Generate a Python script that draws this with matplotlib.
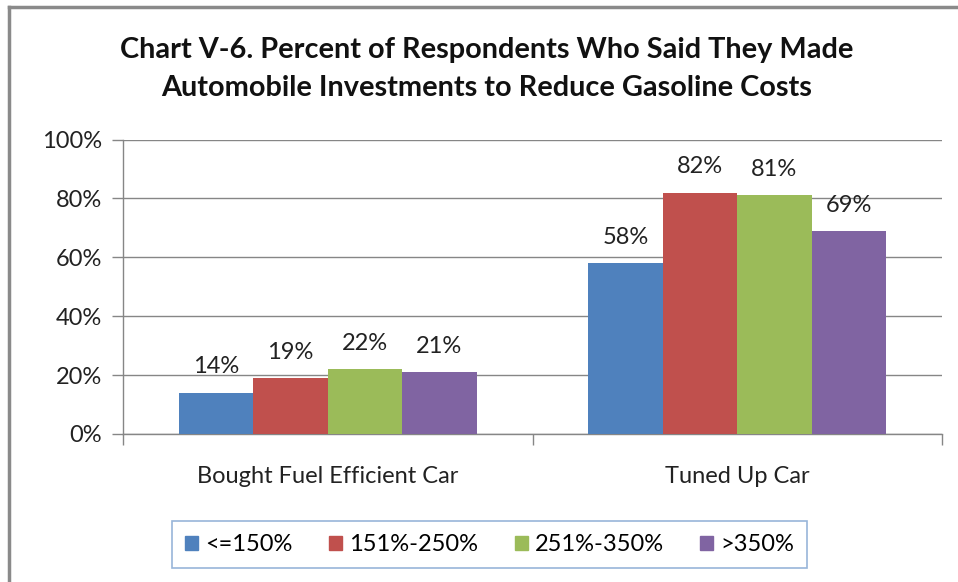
import numpy as np
import matplotlib.pyplot as plt
from matplotlib.lines import Line2D
from matplotlib.patches import Rectangle

plt.rcParams['font.family'] = ['Lato', 'DejaVu Sans']

categories = ["Bought Fuel Efficient Car", "Tuned Up Car"]
series_names = ["<=150%", "151%-250%", "251%-350%", ">350%"]
values = {
    "<=150%": [14, 58],
    "151%-250%": [19, 82],
    "251%-350%": [22, 81],
    ">350%": [21, 69],
}
colors = ["#4F81BD", "#C0504D", "#9BBB59", "#8064A2"]
y_ticks = [0, 20, 40, 60, 80, 100]

GRID = "#868686"
FS = 17

fig = plt.figure(figsize=(9.58, 5.82), dpi=100)
ax = fig.add_axes([0.1284, 0.2543, 0.8549, 0.506])

x = np.arange(len(categories))
bar_w = 0.1817
for i, name in enumerate(series_names):
    pos = x + (i - 1.5) * bar_w
    bars = ax.bar(pos, values[name], width=bar_w, color=colors[i],
                  label=name, zorder=3)
    for b, v in zip(bars, values[name]):
        ax.annotate(f"{v}%", (b.get_x() + b.get_width() / 2, v),
                    xytext=(0, 11), textcoords="offset points",
                    ha="center", va="bottom", fontsize=FS, color="#222222")

ax.set_xlim(-0.5, len(categories) - 0.5)
ax.set_ylim(0, 100)
ax.set_yticks(y_ticks)
ax.set_yticklabels([f"{t}%" for t in y_ticks], fontsize=FS, color="#222222")
ax.yaxis.grid(True, color=GRID, linewidth=1, zorder=0)

# category labels sit between boundary tick marks
ax.set_xticks([-0.5, 0.5, 1.5])
ax.set_xticklabels([])
ax.set_xticks(x, minor=True)
ax.set_xticklabels(categories, minor=True, fontsize=FS, color="#222222")
ax.tick_params(axis="x", which="minor", length=0, pad=23)
ax.tick_params(axis="x", which="major", length=8, color=GRID, width=1)
ax.tick_params(axis="y", length=8, color=GRID, width=1, pad=7)

for side in ["top", "right"]:
    ax.spines[side].set_visible(False)
for side in ["left", "bottom"]:
    ax.spines[side].set_color(GRID)
    ax.spines[side].set_linewidth(1)

fig.suptitle("Chart V-6. Percent of Respondents Who Said They Made\n"
             "Automobile Investments to Reduce Gasoline Costs",
             x=0.508, y=0.937, fontsize=20.8, fontweight="bold",
             linespacing=1.6, color="#111111")

handles = [Rectangle((0, 0), 1, 1, color=c) for c in colors]
leg = fig.legend(handles, series_names, loc="center", ncol=4,
                 bbox_to_anchor=(0.511, 0.0644), fontsize=FS,
                 frameon=True, fancybox=False, handlelength=0.55,
                 handleheight=0.55, handletextpad=0.3, columnspacing=1.55,
                 borderpad=0.55)
leg.get_frame().set_edgecolor("#7FA3D0")
leg.get_frame().set_linewidth(1.2)

# outer chart frame: left and top edges only
fig.add_artist(Line2D([0.0095, 0.0095], [0, 0.988], transform=fig.transFigure,
                      color="#8A8A8A", linewidth=2.5))
fig.add_artist(Line2D([0.0095, 1.0], [0.988, 0.988], transform=fig.transFigure,
                      color="#8A8A8A", linewidth=2.5))

fig.savefig("out.png", dpi=100)
